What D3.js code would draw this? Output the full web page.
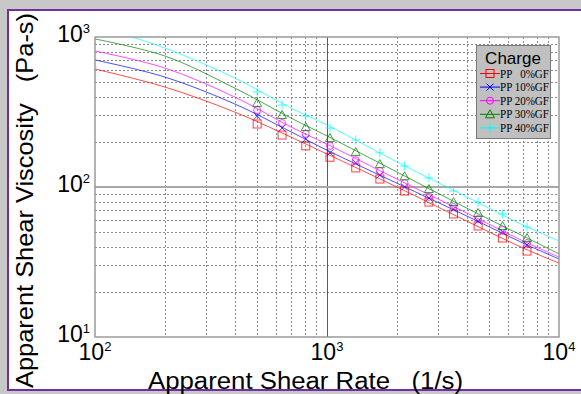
<!DOCTYPE html>
<html>
<head>
<meta charset="utf-8">
<script src="https://cdn.jsdelivr.net/npm/d3@7"></script>
<style>
  body { margin: 0; background: #fff; }
  svg { display: block; }
  .leg-text { white-space: pre; }
</style>
</head>
<body>
<script>
const W = 581, H = 394
const margin = { top: 37, right: 22, bottom: 57, left: 95 }
const width = W - margin.left - margin.right
const height = H - margin.top - margin.bottom

// series
const seriesNames = ['PP   0%GF', 'PP 10%GF', 'PP 20%GF', 'PP 30%GF', 'PP 40%GF']
const seriesColors = ['#ff0000', '#0000ff', '#ff00ff', '#008000', '#00ffff']
const seriesSymbols = ['square', 'cross', 'circle', 'triangle', 'plus']

// measured points (shear rate 1/s, viscosity Pa-s)
const shearRate = [500, 640, 810, 1030, 1330, 1690, 2160, 2750, 3510, 4480, 5710, 7280]
const visc0 = [263, 222, 188, 158, 134, 113, 94, 79.4, 66.1, 55, 45.7, 37.4]
const visc10 = [297, 247, 209, 169, 145, 120, 100, 84.5, 71.3, 59.3, 50.1, 41.1]
const visc20 = [326, 267, 226, 188, 151, 128, 106, 86, 73.6, 61.2, 51.7, 42.3]
const visc30 = [363, 302, 251, 212, 171, 142, 118, 97, 79.4, 67.1, 55, 45.7]
const visc40 = [430, 352, 297, 247, 206, 169, 138, 115, 94, 79.4, 66.1, 54.1]

// fitted curves
const fitRate = [100, 200, 400, 700, 1000, 2000, 4000, 7000, 10000]
const fit0 = [612, 464, 316, 215, 166, 100, 59.3, 39.2, 31.1]
const fit10 = [703, 541, 358, 233, 176, 106, 64.1, 42.3, 33.1]
const fit20 = [807, 621, 398, 251, 193, 113, 67.1, 43.7, 34.1]
const fit30 = [970, 747, 457, 288, 219, 126, 72.4, 47.1, 35.8]
const fit40 = [1184, 845, 533, 336, 259, 147, 86, 55.8, 43.7]

const xTicks = [100, 1000, 10000]
const yTicks = [10, 100, 1000]

const measured = [visc0, visc10, visc20, visc30, visc40]
const fits = [fit0, fit10, fit20, fit30, fit40]

const svg = d3.select('body').append('svg')
  .attr('width', W)
  .attr('height', H)

// page frame
svg.append('rect').attr('width', W).attr('height', H).attr('fill', '#c8c8c8')
svg.append('rect')
  .attr('x', 8).attr('y', 10).attr('width', W).attr('height', 380)
  .attr('fill', '#fff')
  .attr('stroke', '#7030a0').attr('stroke-width', 2)

const x = d3.scaleLog().domain([100, 10000]).range([margin.left, margin.left + width])
const y = d3.scaleLog().domain([10, 1000]).range([margin.top + height, margin.top])

svg.append('clipPath').attr('id', 'plot-clip')
  .append('rect')
  .attr('x', margin.left).attr('y', margin.top)
  .attr('width', width).attr('height', height)

// grid
const minorX = x.ticks().filter(d => !xTicks.includes(d))
const minorY = y.ticks().filter(d => !yTicks.includes(d))
const grid = svg.append('g')

grid.selectAll('.gx').data(minorX).enter().append('line')
  .attr('x1', d => Math.round(x(d)) + 0.5).attr('x2', d => Math.round(x(d)) + 0.5)
  .attr('y1', margin.top).attr('y2', margin.top + height)
  .attr('stroke', '#8a8a8a').attr('stroke-dasharray', '2,2')

grid.selectAll('.gy').data(minorY).enter().append('line')
  .attr('y1', d => Math.round(y(d)) + 0.5).attr('y2', d => Math.round(y(d)) + 0.5)
  .attr('x1', margin.left).attr('x2', margin.left + width)
  .attr('stroke', '#8a8a8a').attr('stroke-dasharray', '2,2')

grid.append('line')
  .attr('x1', Math.round(x(1000)) + 0.5).attr('x2', Math.round(x(1000)) + 0.5)
  .attr('y1', margin.top).attr('y2', margin.top + height)
  .attr('stroke', '#5a5a5a')
grid.append('line')
  .attr('y1', y(100)).attr('y2', y(100))
  .attr('x1', margin.left).attr('x2', margin.left + width)
  .attr('stroke', '#a8a8a8').attr('stroke-width', 2)

// curves
const line = d3.line()
  .x(d => x(d[0]))
  .y(d => y(d[1]))
  .curve(d3.curveCatmullRom)

svg.append('g').attr('clip-path', 'url(#plot-clip)')
  .selectAll('path').data(fits).enter().append('path')
  .attr('d', f => line(fitRate.map((r, i) => [r, f[i]])))
  .attr('fill', 'none')
  .attr('stroke', (d, i) => seriesColors[i])
  .attr('stroke-width', 1)
  .attr('stroke-opacity', 0.7)

// markers
const drawSymbol = (g, sym, color) => {
  if (sym === 'square')
    g.append('rect').attr('x', -4).attr('y', -4).attr('width', 8).attr('height', 8)
      .attr('fill', 'none').attr('stroke', color)
  else if (sym === 'cross')
    g.append('path').attr('d', 'M-3.5,-3.5L3.5,3.5M-3.5,3.5L3.5,-3.5')
      .attr('fill', 'none').attr('stroke', color)
  else if (sym === 'circle')
    g.append('circle').attr('r', 3.5)
      .attr('fill', 'none').attr('stroke', color)
  else if (sym === 'triangle')
    g.append('path').attr('d', 'M0,-4.5L4.5,3.5L-4.5,3.5Z')
      .attr('fill', 'none').attr('stroke', color)
  else
    g.append('path').attr('d', 'M-4.5,0L4.5,0M0,-4.5L0,4.5')
      .attr('fill', 'none').attr('stroke', color)
}

measured.forEach((vals, si) => {
  const pts = svg.append('g').attr('opacity', 0.75)
    .selectAll('g').data(vals).enter().append('g')
    .attr('transform', (d, i) => `translate(${x(shearRate[i])},${y(d)})`)
  pts.each(function () { drawSymbol(d3.select(this), seriesSymbols[si], seriesColors[si]) })
})

// plot frame
svg.append('rect')
  .attr('x', margin.left).attr('y', margin.top)
  .attr('width', width).attr('height', height)
  .attr('fill', 'none').attr('stroke', '#9a9a9a').attr('stroke-width', 1.5)

// tick labels
const exp = d => Math.round(Math.log10(d))
const xl = svg.selectAll('.xl').data(xTicks).enter().append('text')
  .attr('x', d => x(d)).attr('y', margin.top + height + 23)
  .attr('text-anchor', 'middle')
  .style('font-family', 'Liberation Sans, Arial, sans-serif')
  .style('font-size', '23px')
xl.append('tspan').text('10')
xl.append('tspan').attr('dy', -9).style('font-size', '13px').text(d => exp(d))

const yl = svg.selectAll('.yl').data(yTicks).enter().append('text')
  .attr('x', margin.left - 5).attr('y', d => y(d) + 5)
  .attr('text-anchor', 'end')
  .style('font-family', 'Liberation Sans, Arial, sans-serif')
  .style('font-size', '23px')
yl.append('tspan').text('10')
yl.append('tspan').attr('dy', -9).style('font-size', '13px').text(d => exp(d))

// axis titles
svg.append('text')
  .attr('x', 148).attr('y', 389)
  .attr('textLength', 315).attr('lengthAdjust', 'spacingAndGlyphs')
  .style('font-family', 'Liberation Sans, Arial, sans-serif')
  .style('font-size', '23px')
  .style('white-space', 'pre')
  .text('Apparent Shear Rate   (1/s)')

svg.append('text')
  .attr('transform', 'translate(33,388) rotate(-90)')
  .attr('textLength', 375).attr('lengthAdjust', 'spacingAndGlyphs')
  .style('font-family', 'Liberation Sans, Arial, sans-serif')
  .style('font-size', '24px')
  .style('white-space', 'pre')
  .text('Apparent Shear Viscosity   (Pa-s)')

// legend
const leg = svg.append('g')
leg.append('rect')
  .attr('x', 476.5).attr('y', 45.5).attr('width', 74).attr('height', 93)
  .attr('fill', '#c0c0c0').attr('stroke', '#7a7a7a')
leg.append('text')
  .attr('x', 513).attr('y', 64)
  .attr('text-anchor', 'middle')
  .style('font-family', 'Liberation Sans, Arial, sans-serif')
  .style('font-size', '17px')
  .text('Charge')

const rows = leg.selectAll('.row').data(seriesNames).enter().append('g')
  .attr('transform', (d, i) => `translate(0,${73.5 + i * 13.6})`)
rows.append('line')
  .attr('x1', 480).attr('x2', 500)
  .attr('stroke', (d, i) => seriesColors[i])
rows.each(function (d, i) {
  const g = d3.select(this).append('g').attr('transform', 'translate(490,0)')
  drawSymbol(g, seriesSymbols[i], seriesColors[i])
})
rows.append('text')
  .attr('class', 'leg-text')
  .attr('x', 500).attr('y', 4)
  .attr('textLength', 49).attr('lengthAdjust', 'spacingAndGlyphs')
  .style('font-family', 'Liberation Serif, Times New Roman, serif')
  .style('font-size', '11.5px')
  .text(d => d)
</script>
</body>
</html>
